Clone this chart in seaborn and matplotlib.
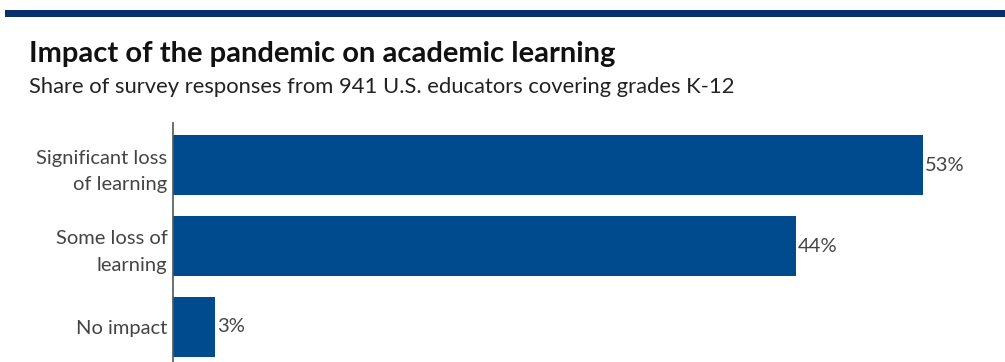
import matplotlib
matplotlib.use("Agg")
import matplotlib.pyplot as plt
import seaborn as sns
import pandas as pd
from matplotlib.patches import Rectangle

categories = ["Significant loss\nof learning", "Some loss of\nlearning", "No impact"]
values = [53, 44, 3]
value_labels = ["53%", "44%", "3%"]

title = "Impact of the pandemic on academic learning"
subtitle = "Share of survey responses from 941 U.S. educators covering grades K-12"

sns.set_theme(style="white")
plt.rcParams["font.family"] = ["Lato", "DejaVu Sans"]

W, H = 1005, 362
fig = plt.figure(figsize=(W / 100, H / 100), dpi=100)

ax_left = 173 / W
ax_top = 123 / H
ax = fig.add_axes([ax_left, 0, 1 - ax_left, 1 - ax_top])

df = pd.DataFrame({"category": categories, "value": values})
bar_color = "#004b8d"
sns.barplot(data=df, x="value", y="category", orient="h", color=bar_color,
            width=0.745, saturation=1, ax=ax, edgecolor="none")

px_per_unit = 750 / 53
ax.set_xlim(0, (W - 173) / px_per_unit)
ax.set_ylim(197 / 81, -42 / 81)

for i, (v, lab) in enumerate(zip(values, value_labels)):
    ax.text(v + 0.12, i, lab, va="center", ha="left", fontsize=14.5, color="#444444")

ax.set_xlabel("")
ax.set_ylabel("")
ax.set_xticks([])
ax.tick_params(axis="y", length=0, pad=4)
for lbl in ax.get_yticklabels():
    lbl.set_fontsize(14.5)
    lbl.set_color("#444444")
    lbl.set_linespacing(1.65)
    lbl.set_horizontalalignment("right")
for s in ["top", "right", "bottom"]:
    ax.spines[s].set_visible(False)
ax.spines["left"].set_color("#555555")
ax.spines["left"].set_linewidth(1.2)

# top rule
fig.add_artist(Rectangle((5 / W, 1 - 17 / H), 1 - 5 / W, 7 / H, transform=fig.transFigure,
                         color="#062f6b", lw=0))

fig.text(29 / W, 1 - 62 / H, title, fontsize=21, fontweight="bold", color="#111111",
         ha="left", va="baseline")
fig.text(29 / W, 1 - 93 / H, subtitle, fontsize=15.8, color="#222222",
         ha="left", va="baseline")

fig.savefig("out.png", dpi=100)
